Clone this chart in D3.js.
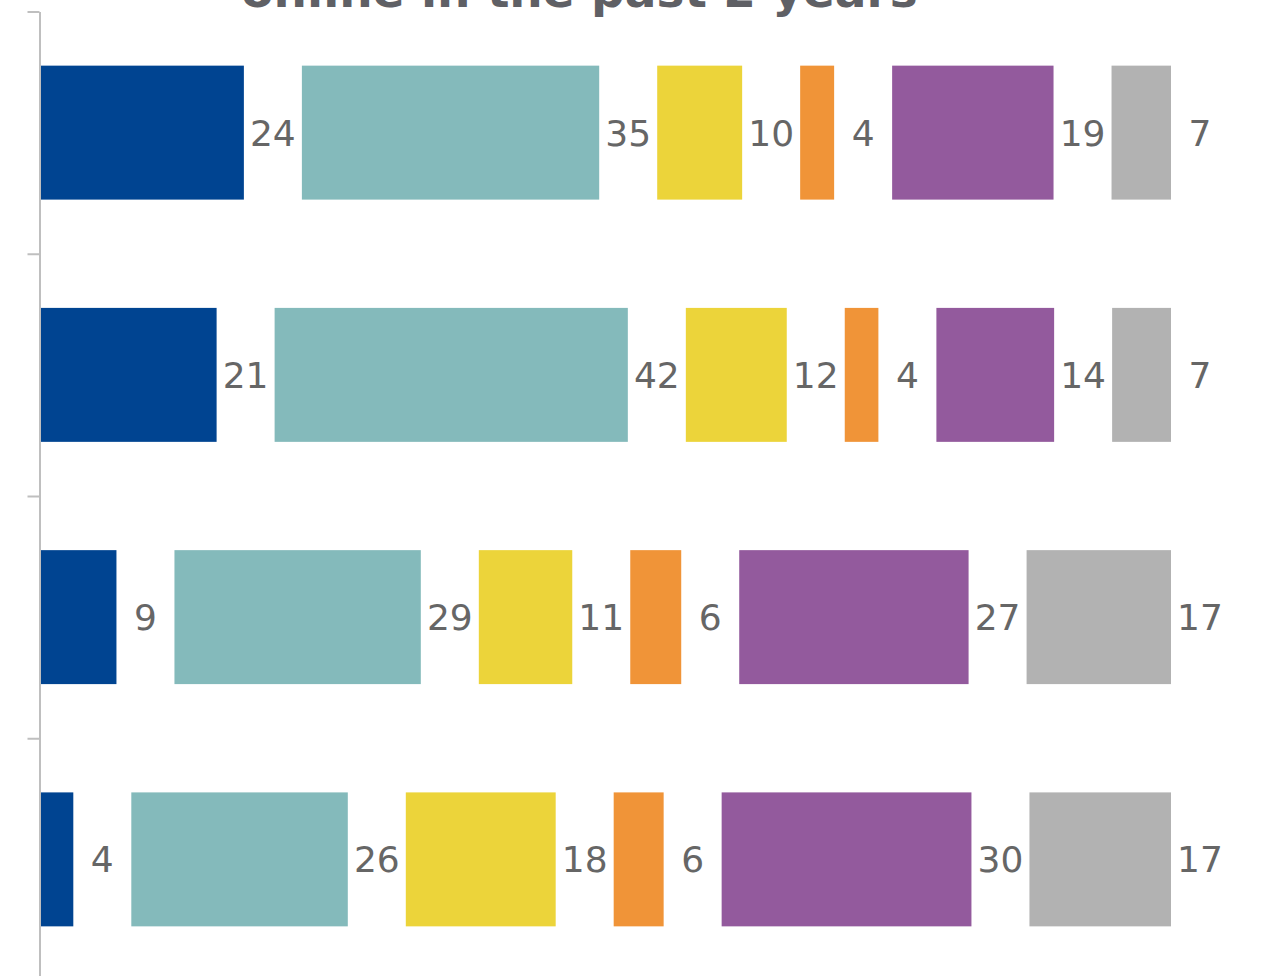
<!DOCTYPE html>
<html>
<head>
<meta charset="utf-8">
<script src="https://cdn.jsdelivr.net/npm/d3@7"></script>
<style>
  html, body { margin: 0; padding: 0; background: #ffffff; }
  svg { display: block; }
</style>
</head>
<body>
<svg id="chart" width="1269" height="976"></svg>
<script>
// ---- data ----
const categories = ["Row 1", "Row 2", "Row 3", "Row 4"];
const seriesNames = ["Series 1", "Series 2", "Series 3", "Series 4", "Series 5", "Series 6"];
const series1 = [24, 21, 9, 4];
const series2 = [35, 42, 29, 26];
const series3 = [10, 12, 11, 18];
const series4 = [4, 4, 6, 6];
const series5 = [19, 14, 27, 30];
const series6 = [7, 7, 17, 17];
const seriesColors = ["#004491", "#84babb", "#ecd43a", "#f09438", "#935a9d", "#b2b2b2"];
const titleText = "online in the past 2 years";

// ---- layout ----
const svg = d3.select("#chart");
const axisX = 40;
const barsRight = 1171;
const gapPx = 58;
const allSeries = [series1, series2, series3, series4, series5, series6];

const y = d3.scaleBand()
  .domain(categories)
  .range([11.5, 980.5])
  .paddingInner(0.447)
  .paddingOuter(0.2235);

const yTicks = d3.scaleLinear().domain([0, categories.length]).range([11.5, 980.5]);

// title (last line only visible)
svg.append("text")
  .attr("x", 579.5)
  .attr("y", 7)
  .attr("text-anchor", "middle")
  .attr("font-family", "'DejaVu Sans', Verdana, sans-serif")
  .attr("font-weight", "bold")
  .attr("font-size", 47)
  .attr("fill", "#5f6065")
  .text(titleText);

// rows
categories.forEach((cat, ri) => {
  const vals = allSeries.map(s => s[ri]);
  const total = d3.sum(vals);
  const x = d3.scaleLinear()
    .domain([0, total])
    .range([0, (barsRight - axisX) - gapPx * (vals.length - 1)]);
  let cum = 0;
  const segs = vals.map((v, si) => {
    const x0 = axisX + x(cum) + si * gapPx;
    const x1 = axisX + x(cum + v) + si * gapPx;
    cum += v;
    return { v, si, x0, x1 };
  });
  const g = svg.append("g");
  g.selectAll("rect").data(segs).join("rect")
    .attr("x", d => d.x0)
    .attr("y", y(cat))
    .attr("width", d => d.x1 - d.x0)
    .attr("height", y.bandwidth())
    .attr("fill", d => seriesColors[d.si]);
  g.selectAll("text").data(segs).join("text")
    .attr("x", d => d.x1 + gapPx / 2)
    .attr("y", y(cat) + y.bandwidth() / 2)
    .attr("dy", "0.36em")
    .attr("text-anchor", "middle")
    .attr("font-family", "'DejaVu Sans', Verdana, sans-serif")
    .attr("font-size", 36)
    .attr("fill", "#666666")
    .text(d => d.v);
});

// axis
const axis = d3.axisLeft(yTicks)
  .tickValues(d3.range(categories.length + 1))
  .tickFormat("")
  .tickSize(12)
  .tickSizeOuter(0);
const ag = svg.append("g")
  .attr("transform", `translate(${axisX - 0.5},0)`)
  .call(axis);
ag.select(".domain").attr("stroke", "#bfbfbf").attr("stroke-width", 2);
ag.selectAll(".tick line").attr("stroke", "#bfbfbf").attr("stroke-width", 2);
</script>
</body>
</html>
